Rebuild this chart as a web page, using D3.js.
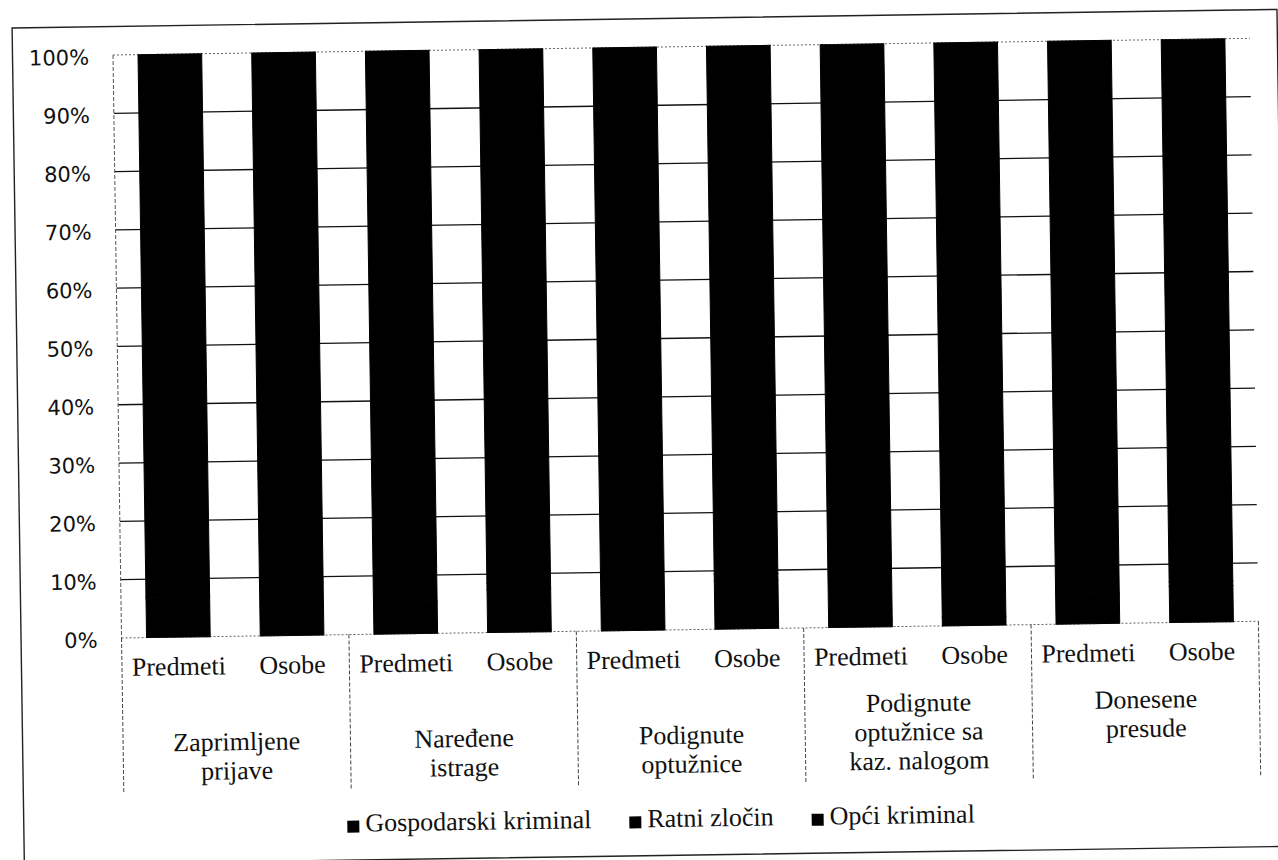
<!DOCTYPE html>
<html>
<head>
<meta charset="utf-8">
<script src="https://cdn.jsdelivr.net/npm/d3@7"></script>
<style>
	body { margin: 0; background: #fff; }
	.lbl { font-family: "Liberation Serif", "DejaVu Serif", serif; }
</style>
</head>
<body>
<script>
// grupe (donja razina osi) i podkategorije (gornja razina)
const groups = [
	["Zaprimljene", "prijave"],
	["Naređene", "istrage"],
	["Podignute", "optužnice"],
	["Podignute", "optužnice sa", "kaz. nalogom"],
	["Donesene", "presude", ""]
];
const subLabels = ["Predmeti", "Osobe"];
const seriesNames = ["Gospodarski kriminal", "Ratni zločin", "Opći kriminal"];

// udjeli po stupcu (Predmeti, Osobe za svaku grupu) - procjena, sve je crno na skenu
const gospodarski = [6.8, 9.1, 5.2, 7.4, 6.1, 8.3, 1.2, 1.5, 4.9, 6.2];
const ratni = [0.3, 0.6, 0.4, 1.0, 0.5, 1.1, 0.0, 0.0, 0.4, 0.8];
const opci = [92.9, 90.3, 94.4, 91.6, 93.4, 90.6, 98.8, 98.5, 94.7, 93.0];

const yTicks = [0, 10, 20, 30, 40, 50, 60, 70, 80, 90, 100];

const WIDTH = 1278;
const HEIGHT = 860;
const plotLeft = 113, plotRight = 1250, plotTop = 55, plotBottom = 638;

const rows = gospodarski.map((g, i) => ({
	id: i,
	sub: subLabels[i % 2],
	"Gospodarski kriminal": g,
	"Ratni zločin": ratni[i],
	"Opći kriminal": opci[i]
}));

const svg = d3
	.select("body")
	.append("svg")
	.attr("width", WIDTH)
	.attr("height", HEIGHT)
	.style("display", "block");

// skenirana stranica je malo zakrenuta
const chart = svg.append("g").attr("transform", `rotate(-0.84,${plotLeft},${plotTop})`);

// okvir
chart
	.append("rect")
	.attr("x", 12.5)
	.attr("y", 26.5)
	.attr("width", 1265)
	.attr("height", 837)
	.attr("fill", "none")
	.attr("stroke", "#222")
	.attr("stroke-width", 1.4);

const x = d3
	.scaleBand()
	.domain(rows.map((d) => d.id))
	.range([plotLeft, plotRight])
	.paddingInner(0.44)
	.paddingOuter(0.22);

const y = d3.scaleLinear().domain([0, 100]).range([plotBottom, plotTop]);

// mreža
chart
	.append("g")
	.selectAll("line")
	.data(yTicks)
	.enter()
	.append("line")
	.attr("x1", plotLeft)
	.attr("x2", plotRight)
	.attr("y1", (t) => y(t))
	.attr("y2", (t) => y(t))
	.attr("stroke", (t) => (t === 0 || t === 100 ? "#666" : "#111"))
	.attr("stroke-width", (t) => (t === 0 || t === 100 ? 1 : 1.3))
	.attr("stroke-dasharray", (t) => (t === 0 || t === 100 ? "2 2" : null));

// oznake osi y
chart
	.append("g")
	.selectAll("text")
	.data(yTicks)
	.enter()
	.append("text")
	.attr("x", plotLeft - 24)
	.attr("y", (t) => y(t) + 2)
	.attr("dy", "0.35em")
	.attr("text-anchor", "end")
	.style("font-family", "'DejaVu Sans', Verdana, sans-serif")
	.attr("font-size", 21)
	.attr("fill", "#111")
	.text((t) => `${t}%`);

// složeni stupci (100%)
const stacked = d3.stack().keys(seriesNames).offset(d3.stackOffsetExpand)(rows);

chart
	.append("g")
	.selectAll("g")
	.data(stacked)
	.enter()
	.append("g")
	.attr("fill", "#000")
	.attr("stroke", "#000")
	.attr("stroke-width", 1)
	.selectAll("rect")
	.data((s) => s)
	.enter()
	.append("rect")
	.attr("x", (d) => x(d.data.id))
	.attr("width", x.bandwidth())
	.attr("y", (d) => y(d[1] * 100))
	.attr("height", (d) => y(d[0] * 100) - y(d[1] * 100));

// os y i razdjelnici grupa
const step = x.step();
const sepBottom = 792;
chart
	.append("line")
	.attr("x1", plotLeft)
	.attr("x2", plotLeft)
	.attr("y1", plotTop)
	.attr("y2", plotBottom)
	.attr("stroke", "#555")
	.attr("stroke-dasharray", "4 2");

chart
	.append("g")
	.selectAll("line")
	.data(d3.range(groups.length + 1))
	.enter()
	.append("line")
	.attr("x1", (k) => plotLeft + k * 2 * step)
	.attr("x2", (k) => plotLeft + k * 2 * step)
	.attr("y1", plotBottom)
	.attr("y2", sepBottom)
	.attr("stroke", "#444")
	.attr("stroke-dasharray", "4 2");

// Predmeti / Osobe
chart
	.append("g")
	.selectAll("text")
	.data(rows)
	.enter()
	.append("text")
	.attr("class", "lbl")
	.attr("x", (d) => x(d.id) + x.bandwidth() / 2)
	.attr("y", 676)
	.attr("text-anchor", "middle")
	.attr("font-size", 26)
	.attr("fill", "#111")
	.text((d) => d.sub);

// nazivi grupa, poravnati prema dnu
const lineH = 29;
const lastBase = 781;
chart
	.append("g")
	.selectAll("text")
	.data(groups)
	.enter()
	.append("text")
	.attr("class", "lbl")
	.attr("text-anchor", "middle")
	.attr("font-size", 26)
	.attr("fill", "#111")
	.each(function (lines, g) {
		const cx = plotLeft + (g * 2 + 1) * step;
		d3.select(this)
			.selectAll("tspan")
			.data(lines)
			.enter()
			.append("tspan")
			.attr("x", cx)
			.attr("y", (l, i) => lastBase - (lines.length - 1 - i) * lineH)
			.text((l) => l);
	});

// legenda
const legend = chart.append("g").attr("transform", "translate(336,835)");
let lx = 0;
seriesNames.forEach((name) => {
	const item = legend.append("g").attr("transform", `translate(${lx},0)`);
	item
		.append("rect")
		.attr("x", 0)
		.attr("y", -11)
		.attr("width", 12)
		.attr("height", 12)
		.attr("fill", "#000");
	const t = item
		.append("text")
		.attr("class", "lbl")
		.attr("x", 18)
		.attr("y", 0)
		.attr("font-size", 26)
		.attr("fill", "#111")
		.text(name);
	lx += 18 + t.node().getComputedTextLength() + 38;
});
</script>
</body>
</html>
